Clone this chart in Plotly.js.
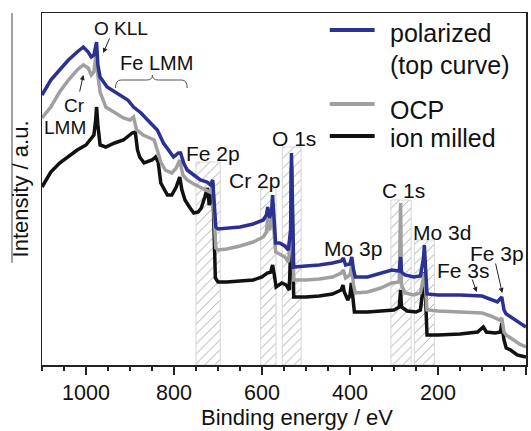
<!DOCTYPE html>
<html>
<head>
<meta charset="utf-8">
<script src="https://cdn.plot.ly/plotly-3.0.1.min.js"></script>
<style>html,body{margin:0;padding:0;background:#fff;}#chart{width:531px;height:431px;}</style>
</head>
<body>
<div id="chart"></div>
<script>
// ---- data (binding energy in eV, intensity in arbitrary units) ----
var ionMilledE = [1100,1080,1060,1040,1020,1000,990,982,978,976,973,968,955,935,915,895,888,883,878,868,850,842,836,830,815,805,795,787,782,775,765,755,745,738,730,724,720,715,712,709,706,700,680,650,620,600,588,580,576,572,568,555,545,538,535,533,531,528,500,470,440,420,416,413,405,400,397,393,390,360,330,300,288,285,283,270,250,240,233,231,228,225,200,150,110,97,90,70,58,55,50,45,35,20,10,0];
var ionMilled  = [178,193,202,209,215,220,225,230,245,258,240,220,218,222,225,232,233,215,208,202,205,208,203,182,170,170,178,188,175,165,158,152,153,157,168,177,160,170,182,125,87,83,83,84,85,88,92,93,100,90,78,82,80,75,115,198,135,68,68,69,71,75,80,73,65,70,82,65,53,53,54,55,58,75,58,54,53,55,80,93,65,30,30,31,33,38,33,32,33,42,25,17,15,10,9,8];

var ocpE = [1100,1080,1060,1040,1020,1006,995,988,982,978,976,973,968,955,935,915,900,892,885,870,860,845,838,830,820,805,795,787,780,770,755,740,725,718,712,709,705,700,680,650,620,597,590,587,583,578,576,573,569,560,548,540,535,533,531,528,500,470,440,420,415,410,400,396,392,388,360,330,305,288,285,283,275,255,240,233,231,228,225,200,150,100,80,60,55,50,45,30,15,0];
var ocp  = [247,258,273,285,295,300,297,290,293,307,315,290,273,258,252,247,245,248,235,230,228,225,215,203,195,192,197,205,190,185,181,178,175,173,179,150,117,115,116,119,123,128,133,147,135,145,162,135,113,111,108,103,125,202,145,85,85,86,88,92,95,87,90,100,80,72,73,77,82,83,162,80,72,70,72,85,92,75,55,54,53,52,49,45,47,33,30,25,21,18];

var polarizedE = [1100,1080,1060,1040,1020,1006,995,988,982,978,976,973,968,952,935,922,905,892,875,860,845,838,824,810,801,790,785,778,770,755,740,725,717,712,709,705,700,680,650,620,597,590,587,583,578,576,573,569,560,548,540,535,533,531,528,500,470,440,420,415,410,400,396,392,388,360,330,305,288,285,283,275,255,240,233,231,228,225,200,150,100,80,65,55,50,45,30,15,0];
var polarized  = [270,285,295,305,313,318,313,308,310,317,323,300,288,278,273,270,265,258,252,245,238,235,222,213,208,212,212,202,195,190,185,183,180,185,160,138,136,137,138,141,145,150,158,147,155,170,145,122,122,119,115,135,212,155,98,99,100,102,104,107,100,101,108,95,88,88,92,95,94,108,93,90,88,89,107,120,95,71,70,70,69,66,63,68,55,51,47,42,38];

// hatched regions of the core levels (energy window and height)
var regionNames = ["Fe 2p","Cr 2p","O 1s","C 1s","Mo 3d"];
var regionLowE  = [695, 568, 511, 261, 208];
var regionHighE = [750, 603, 554, 307, 254];
var regionTop   = [203, 177, 218, 165, 125];

var xTickVals = [0,200,400,600,800,1000];
var xTickText = ["0","200","400","600","800","1000"];

var seriesNames = ["polarized","OCP","ion milled"];
// ---------------------------------------------------------------

var FONT = "Liberation Sans, Arial, Helvetica, sans-serif";
var BLUE = "#2b3192", GRAY = "#a0a0a0", BLACK = "#111111";

var centers = regionLowE.map(function(v,i){return (v+regionHighE[i])/2;});
var widths  = regionLowE.map(function(v,i){return regionHighE[i]-v;});

var traces = [
  {type:"bar", x:centers, y:regionTop, width:widths, base:0, name:"regions", text:regionNames,
   hoverinfo:"text", textposition:"none", showlegend:false,
   marker:{color:"white", line:{color:"#d6d6d6", width:1},
           pattern:{shape:"/", fgcolor:"#9a9a9a", bgcolor:"white", size:7, solidity:0.12}}},
  {type:"scatter", mode:"lines", x:ionMilledE, y:ionMilled, name:seriesNames[2],
   line:{color:BLACK, width:3.5}, showlegend:false},
  {type:"scatter", mode:"lines", x:ocpE, y:ocp, name:seriesNames[1],
   line:{color:GRAY, width:3.5}, showlegend:false},
  {type:"scatter", mode:"lines", x:polarizedE, y:polarized, name:seriesNames[0],
   line:{color:BLUE, width:3.5}, showlegend:false}
];

function lab(text, x, y, size, extra){
  var a = {text:text, x:x, y:y, xref:"x", yref:"y", showarrow:false,
           font:{family:FONT, size:size||21, color:"#111"}};
  if(extra){ for(var k in extra) a[k]=extra[k]; }
  return a;
}
function arrow(x, y, ax, ay){
  return {text:"", x:x, y:y, xref:"x", yref:"y", showarrow:true, ax:ax, ay:ay,
          arrowhead:2, arrowsize:1, arrowwidth:1, arrowcolor:"#222"};
}

var annotations = [
  lab("O KLL", 920, 337, 19),
  lab("Fe LMM", 840, 302, 20),
  lab("Cr", 1026, 260, 19),
  lab("LMM", 1047, 238, 19),
  lab("Fe 2p", 712, 212),
  lab("Cr 2p", 617, 185),
  lab("O 1s", 527, 227),
  lab("C 1s", 279, 175),
  lab("Mo 3p", 393, 117),
  lab("Mo 3d", 190, 133),
  lab("Fe 3s", 142, 95),
  lab("Fe 3p", 65, 112),
  arrow(961, 312, 7, -16),
  arrow(1006, 290, -4, 18),
  arrow(112, 73, -5, -14),
  arrow(54, 72, -7, -31),
  // legend
  lab("polarized", 313, 332, 25, {xanchor:"left"}),
  lab("(top curve)", 313, 300, 25, {xanchor:"left"}),
  lab("OCP", 313, 255, 25, {xanchor:"left"}),
  lab("ion milled", 313, 227, 25, {xanchor:"left"}),
  // x axis title
  {text:"Binding energy / eV", xref:"paper", yref:"paper", x:0.527, y:-0.148,
   xanchor:"center", yanchor:"middle", showarrow:false, borderpad:0,
   font:{family:FONT, size:22, color:"#111"}}
];

var shapes = [
  // Fe LMM brace
  {type:"path", xref:"x", yref:"y", line:{color:"#555", width:1},
   path:"M 933,277 Q 933,285 920,285 L 862,285 Q 849,285 849,290 Q 849,285 836,285 L 783,285 Q 770,285 770,277"},
  // legend lines
  {type:"line", xref:"x", yref:"y", x0:446, x1:344, y0:335, y1:335, line:{color:BLUE, width:4}},
  {type:"line", xref:"x", yref:"y", x0:446, x1:344, y0:261, y1:261, line:{color:GRAY, width:4}},
  {type:"line", xref:"x", yref:"y", x0:446, x1:344, y0:229, y1:229, line:{color:BLACK, width:4}},
  // thin line beside the y title (as in the source figure)
  {type:"line", xref:"paper", yref:"paper", x0:-0.062, x1:-0.062, y0:0.29, y1:1.0, line:{color:"#444", width:1}}
];

var layout = {
  width:531, height:431,
  margin:{l:42, r:5, t:13, b:66},
  paper_bgcolor:"white", plot_bgcolor:"white",
  showlegend:false,
  bargap:0,
  font:{family:FONT, size:21, color:"#111"},
  xaxis:{range:[1100,0], autorange:false, tickvals:xTickVals, ticktext:xTickText,
         ticks:"outside", ticklen:8, tickwidth:1.5, tickcolor:"#222",
         minor:{dtick:50, tick0:0, ticks:"outside", ticklen:4, tickwidth:1.5, tickcolor:"#222"},
         showline:true, linecolor:"#222", linewidth:1.5, mirror:true,
         showgrid:false, zeroline:false,
         tickfont:{family:FONT, size:21.5, color:"#111"}},
  yaxis:{range:[0,352], autorange:false, showticklabels:false, ticks:"",
         showline:true, linecolor:"#222", linewidth:1.5, mirror:true,
         showgrid:false, zeroline:false,
         title:{text:"Intensity / a.u.", font:{family:FONT, size:22, color:"#111"}, standoff:6}},
  annotations:annotations,
  shapes:shapes
};

Plotly.newPlot("chart", traces, layout, {displayModeBar:false, staticPlot:true});
</script>
</body>
</html>
